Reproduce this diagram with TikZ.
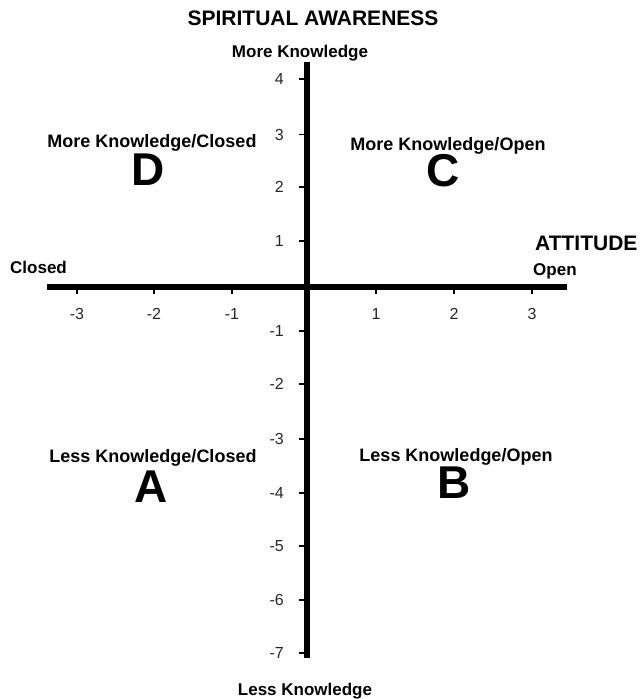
\documentclass[tikz,border=0pt]{standalone}
\usepackage{fontspec}
\setmainfont{Liberation Sans}
\usetikzlibrary{positioning}

\begin{document}
\begin{tikzpicture}[x=1pt, y=-1pt,
  axisline/.style={line width=6pt},
  tickmark/.style={line width=1.2pt},
  ticklabel/.style={font=\fontsize{16}{18}\selectfont, inner sep=0pt, text=black!85},
  quadlabel/.style={font=\bfseries\fontsize{18}{20}\selectfont, inner sep=0pt, anchor=base},
  quadletter/.style={font=\bfseries\fontsize{46}{48}\selectfont, inner sep=0pt, anchor=base, text height=33pt, text depth=0pt},
  axistitle/.style={font=\bfseries\fontsize{21}{24}\selectfont, inner sep=0pt},
  endlabel/.style={font=\bfseries\fontsize{17}{19}\selectfont, inner sep=0pt}]
  \useasboundingbox (0,0) rectangle (644,699);

  % axes
  \coordinate (xleft) at (47,286.5);
  \coordinate (xright) at (567,286.5);
  \coordinate (ytop) at (306.5,62);
  \coordinate (ybottom) at (306.5,658);
  \draw[axisline] (xleft) -- (xright);
  \draw[axisline] (ytop) -- (ybottom);

  % ticks
  \foreach \v/\py in {4/79,3/134.5,2/187,1/241,-1/331,-2/384,-3/439,-4/493,-5/546,-6/600,-7/653}{
    \draw[tickmark] (299,\py) -- (306.5,\py);
    \node[ticklabel, anchor=east] (ylab\v) at (284,\py) {\v};
  }
  \foreach \v/\px in {-3/77,-2/154,-1/232,1/376,2/454,3/532}{
    \draw[tickmark] (\px,286.5) -- (\px,294);
    \node[ticklabel] (xlab\v) at (\px,314) {\v};
  }

  % axis titles
  \node[axistitle, anchor=base] (spirit) at (313,25) {SPIRITUAL AWARENESS};
  \node[endlabel, anchor=base] (moreknow) at (300,57) {More Knowledge};
  \node[endlabel, anchor=base] (lessknow) at (305,695) {Less Knowledge};
  \node[axistitle, anchor=base west] (attitude) at (535,250) {ATTITUDE};
  \node[endlabel, anchor=base west] (open) at (533,275) {Open};
  \node[endlabel, anchor=base west] (closed) at (10,273) {Closed};

  % quadrants
  \node[quadlabel] (dlab) at (152,147) {More Knowledge/Closed};
  \node[quadletter] (dlet) at (148,185) {D};
  \node[quadlabel] (clab) at (448,150) {More Knowledge/Open};
  \node[quadletter] (clet) at (443,186) {C};
  \node[quadlabel] (alab) at (153,462) {Less Knowledge/Closed};
  \node[quadletter] (alet) at (151,502) {A};
  \node[quadlabel] (blab) at (456,461) {Less Knowledge/Open};
  \node[quadletter] (blet) at (454,498) {B};
\end{tikzpicture}
\end{document}
